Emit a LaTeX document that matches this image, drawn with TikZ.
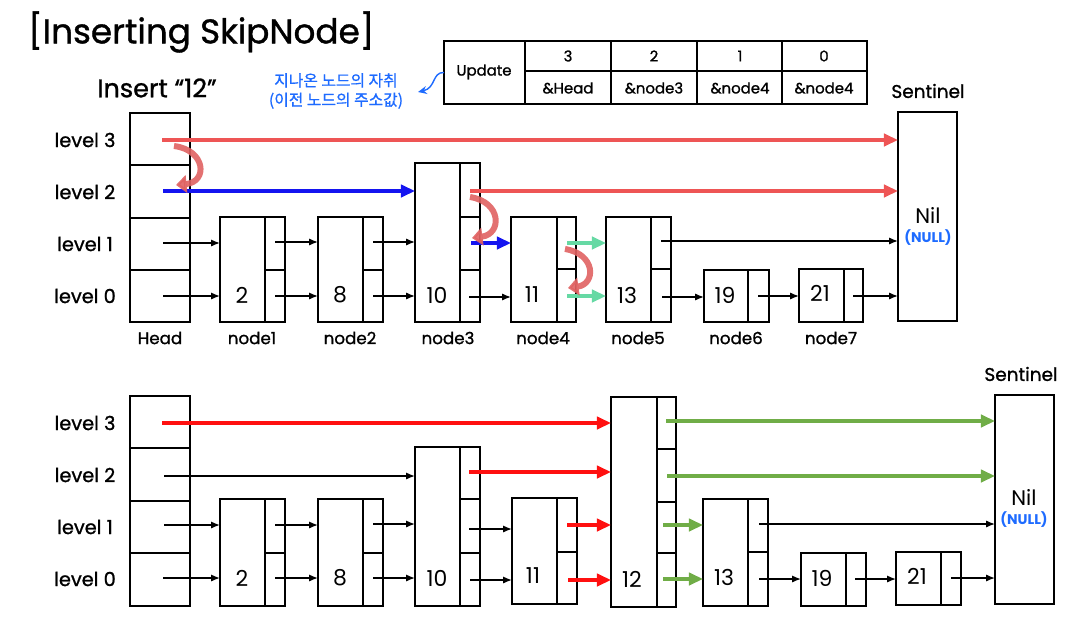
\documentclass[tikz,border=0pt]{standalone}
\usepackage{fontspec}
\setmainfont{Poppins}[BoldFont=Poppins, BoldFeatures={FakeBold=1.1}]
\newfontfamily\pb{Poppins}
\newfontfamily\kr{Noto Sans CJK KR}[BoldFont=Noto Sans CJK KR, BoldFeatures={FakeBold=0.8}]
\usetikzlibrary{arrows.meta,fit}
\definecolor{lred}{HTML}{EE5555}
\definecolor{cred}{HTML}{E06262}
\definecolor{pblue}{HTML}{1414F0}
\definecolor{mint}{HTML}{66D9A4}
\definecolor{bred}{HTML}{FF1010}
\definecolor{bgreen}{HTML}{70AD47}
\definecolor{kblue}{HTML}{1E6BFF}
\newcommand\sknode[6]{%
  \node[box, fit={(#2,#3) (#4,#5)}] (#1) {};
  \draw[boxline] (#6,#3) -- (#6,#5);}
\newcommand\parr[4][ptr]{\draw[#1] (#2,#3) coordinate (tmp) -- (tmp -| #4.west);}
\begin{document}
\begin{tikzpicture}[x=0.02cm,y=-0.02cm,
  box/.style={draw, line width=1.2pt, inner sep=0pt, outer sep=0pt},
  boxline/.style={line width=1.2pt},
  ptr/.style={draw=black, line width=0.8pt, -{Latex[length=5pt,width=4pt]}},
  redptr/.style={draw=lred, line width=1.8pt, -{Triangle[length=8pt,width=7pt]}},
  blueptr/.style={draw=pblue, line width=1.8pt, -{Triangle[length=8pt,width=7pt]}},
  mintptr/.style={draw=mint, line width=2pt, -{Triangle[length=8pt,width=7pt]}},
  bredptr/.style={draw=bred, line width=1.8pt, -{Triangle[length=8pt,width=7pt]}},
  greenptr/.style={draw=bgreen, line width=1.8pt, -{Triangle[length=8pt,width=7pt]}},
  curl/.style={draw=cred, opacity=0.9, line width=3.4pt, -{Triangle[length=6pt,width=10pt]}},
  lvl/.style={font=\bfseries\fontsize{11}{12}\selectfont},
  val/.style={font=\fontsize{12.5}{14}\selectfont},
  lab/.style={font=\bfseries\fontsize{9.5}{11}\selectfont},
  tbl/.style={font=\bfseries\fontsize{8.5}{10}\selectfont},
  sent/.style={font=\bfseries\fontsize{10.5}{12}\selectfont},
  nil/.style={font=\fontsize{12}{14}\selectfont},
  null/.style={font=\pb\bfseries\fontsize{8}{10}\selectfont, text=kblue}
]
\useasboundingbox (0,0) rectangle (1092,622);

% title
\node[font=\bfseries\fontsize{19.5}{22}\selectfont, anchor=west] (title) at (22,32) {[Inserting SkipNode]};
\node[font=\bfseries\fontsize{14.5}{16}\selectfont] (ins) at (157,88) {Insert “12”};

% Korean note
\node[kblue, font=\kr\bfseries\fontsize{9}{11}\selectfont, align=center] (note) at (336,91) {지나온 노드의 자취\\(이전 노드의 주소값)};

% Update table
\node[box, fit={(444,41) (867,104)}] (utab) {};
\draw[boxline] (525,71) -- (867,71);
\foreach \xx in {525,611,697,782} \draw[boxline] (\xx,41) -- (\xx,104);
\node[tbl] (u0) at (484,72) {Update};
\node[tbl] (c3) at (568,56) {3};
\node[tbl] (c2) at (654,56) {2};
\node[tbl] (c1) at (740,56) {1};
\node[tbl] (c0) at (824,56) {0};
\node[tbl] (v3) at (568,88) {\&Head};
\node[tbl] (v2) at (654,88) {\&node3};
\node[tbl] (v1) at (740,88) {\&node4};
\node[tbl] (v0) at (824,88) {\&node4};
\draw[kblue, line width=0.8pt, -{Stealth[length=5pt,width=4.5pt]}] (utab.west) .. controls (432,72) and (436,88) .. (418,92);

% ===== TOP =====
\foreach \yy/\t in {140/3,192/2,244/1,296/0} \node[lvl] at (85,\yy) {level \t};
\node[box, fit={(130,113) (190,322)}] (head) {};
\foreach \yy in {165,218,270} \draw[boxline] (130,\yy) -- (190,\yy);
\node[lab] at (160,338) {Head};

\sknode{n1}{220}{217}{285}{322}{265}
\draw[boxline] (265,270) -- (285,270);
\node[val] at (242,295) {2};
\node[lab] at (252,338) {node1};

\sknode{n2}{318}{217}{383}{322}{363}
\draw[boxline] (363,270) -- (383,270);
\node[val] at (340,295) {8};
\node[lab] at (350,338) {node2};

\sknode{n3}{415}{163}{480}{322}{460}
\draw[boxline] (460,217) -- (480,217) (460,270) -- (480,270);
\node[val] at (437,295) {10};
\node[lab] at (448,338) {node3};

\sknode{n4}{511}{217}{576}{322}{557}
\draw[boxline] (557,269) -- (576,269);
\node[val] at (532,295) {11};
\node[lab] at (543,338) {node4};

\sknode{n5}{606}{217}{671}{322}{651}
\draw[boxline] (651,269) -- (671,269);
\node[val] at (627,295) {13};
\node[lab] at (638,338) {node5};

\sknode{n6}{704}{270}{769}{322}{748}
\node[val] at (725,295) {19};
\node[lab] at (736,338) {node6};

\sknode{n7}{799}{269}{863}{322}{844}
\node[val] at (820,293) {21};
\node[lab] at (831,338) {node7};

\node[box, fit={(898,112) (957,321)}] (sent) {};
\node[sent] at (928,91) {Sentinel};
\node[nil] at (928,215) {Nil};
\node[null] at (928,238) {(NULL)};

% top arrows
\parr[redptr]{162}{140}{sent}
\parr[blueptr]{163}{191}{n3}
\parr[redptr]{470}{191}{sent}
\parr[blueptr]{471}{243}{n4}
\parr{163}{243}{n1}
\parr{163}{296}{n1}
\parr{275}{242}{n2}
\parr{275}{296}{n2}
\parr{373}{242}{n3}
\parr{373}{296}{n3}
\parr{469}{297}{n4}
\parr[mintptr]{567}{243}{n5}
\parr[mintptr]{567}{296}{n5}
\parr{661}{241}{sent}
\parr{662}{297}{n6}
\parr{758}{296}{n7}
\parr{853}{296}{sent}

% curl arrows
\draw[curl] (174,146) .. controls (206,150) and (208,182) .. (176,185);
\draw[curl] (470,197) .. controls (502,202) and (502,234) .. (472,238);
\draw[curl] (565,249) .. controls (596,254) and (596,284) .. (568,288);

% ===== BOTTOM =====
\foreach \yy/\t in {423/3,475/2,527/1,579/0} \node[lvl] at (85,\yy) {level \t};
\node[box, fit={(130,396) (190,606)}] (bhead) {};
\foreach \yy in {448,501,553} \draw[boxline] (130,\yy) -- (190,\yy);

\sknode{m1}{220}{499}{285}{606}{265}
\draw[boxline] (265,553) -- (285,553);
\node[val] at (242,578) {2};

\sknode{m2}{318}{499}{383}{606}{363}
\draw[boxline] (363,553) -- (383,553);
\node[val] at (340,578) {8};

\sknode{m3}{415}{447}{480}{606}{460}
\draw[boxline] (460,499) -- (480,499) (460,553) -- (480,553);
\node[val] at (437,578) {10};

\sknode{m4}{512}{498}{577}{604}{557}
\draw[boxline] (557,552) -- (577,552);
\node[val] at (533,576) {11};

\sknode{m5}{611}{397}{676}{607}{657}
\draw[boxline] (657,449) -- (676,449) (657,502) -- (676,502) (657,553) -- (676,553);
\node[val] at (632,579) {12};

\sknode{m6}{703}{499}{768}{606}{748}
\draw[boxline] (748,552) -- (768,552);
\node[val] at (724,577) {13};

\sknode{m7}{801}{553}{866}{606}{846}
\node[val] at (822,578) {19};

\sknode{m8}{896}{552}{961}{605}{941}
\node[val] at (917,576) {21};

\node[box, fit={(995,395) (1054,604)}] (bsent) {};
\node[sent] at (1021,374) {Sentinel};
\node[nil] at (1024,497) {Nil};
\node[null] at (1024,520) {(NULL)};

% bottom arrows
\parr[bredptr]{162}{423}{m5}
\parr{164}{476}{m3}
\parr{164}{525}{m1}
\parr{163}{578}{m1}
\parr{275}{525}{m2}
\parr{275}{578}{m2}
\parr{373}{524}{m3}
\parr{373}{578}{m3}
\parr[bredptr]{469}{472}{m5}
\parr{469}{529}{m4}
\parr{470}{580}{m4}
\parr[bredptr]{567}{525}{m5}
\parr[bredptr]{568}{580}{m5}
\parr[greenptr]{666}{421}{bsent}
\parr[greenptr]{667}{476}{bsent}
\parr[greenptr]{663}{525}{m6}
\parr[greenptr]{663}{579}{m6}
\parr{759}{524}{bsent}
\parr{759}{579}{m7}
\parr{855}{579}{m8}
\parr{951}{578}{bsent}
\end{tikzpicture}
\end{document}
